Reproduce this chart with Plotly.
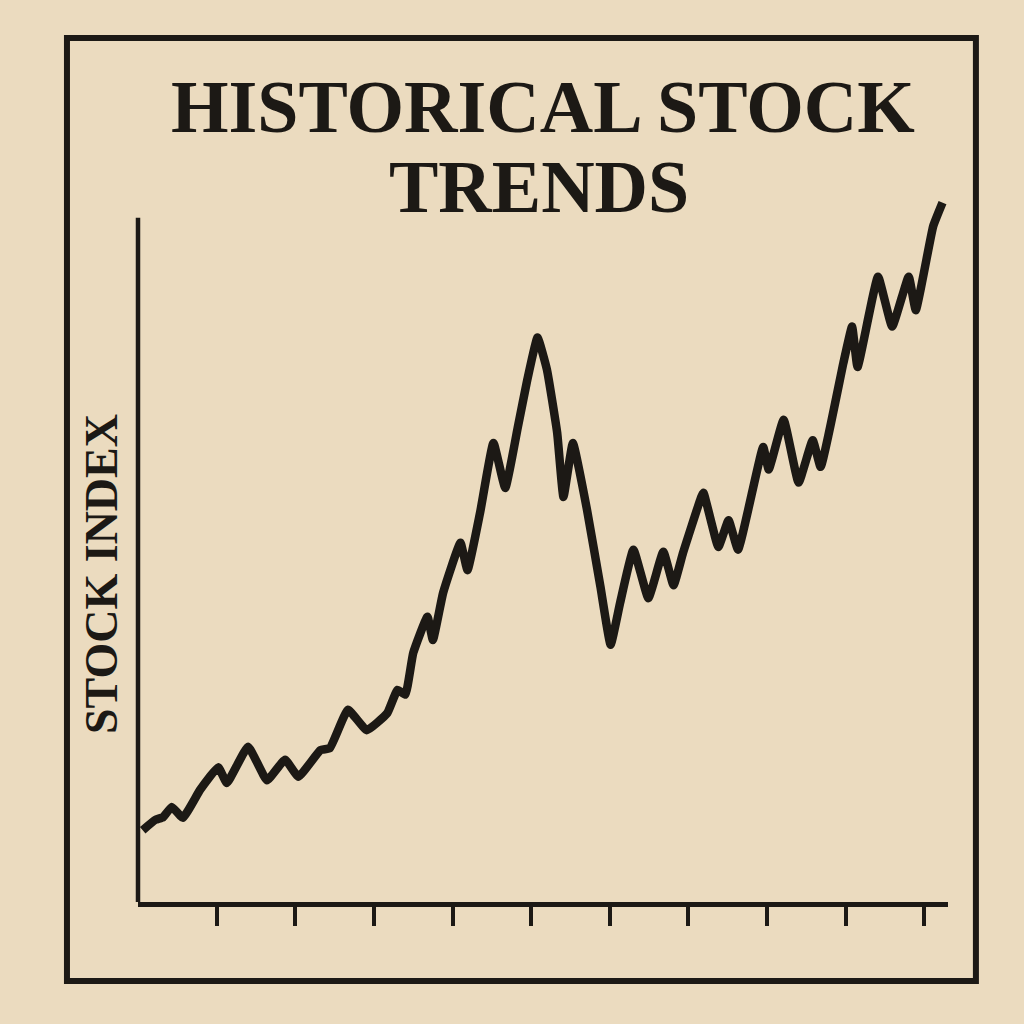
import plotly.graph_objects as go

# Data (x: period units, ticks at 1..10; y: index units 0-100)
period = [0.06, 0.22, 0.32, 0.43, 0.57, 0.79, 1.02, 1.13, 1.40, 1.64,
          1.87, 2.04, 2.32, 2.44, 2.67, 2.91, 3.17, 3.30, 3.40, 3.50,
          3.68, 3.75, 3.88, 4.10, 4.19, 4.35, 4.52, 4.67, 4.83, 4.95,
          5.08, 5.20, 5.33, 5.41, 5.53, 5.71, 5.88, 6.01, 6.13, 6.30,
          6.49, 6.68, 6.81, 6.93, 7.15, 7.19, 7.38, 7.51, 7.63, 7.95,
          8.02, 8.21, 8.40, 8.58, 8.68, 8.97, 9.08, 9.15, 9.41, 9.59,
          9.80, 9.89, 10.11, 10.23]
index_value = [10.5, 12.0, 12.4, 13.9, 12.3, 16.4, 19.7, 17.4, 22.7, 17.8,
               20.8, 18.3, 22.2, 22.5, 28.1, 25.1, 27.6, 31.0, 30.3, 36.4,
               41.7, 38.3, 45.2, 52.5, 48.5, 56.9, 67.1, 60.5, 69.4, 76.3,
               82.5, 77.8, 68.6, 59.2, 67.1, 57.3, 46.1, 37.6, 43.7, 51.5,
               44.4, 51.2, 46.3, 51.0, 58.8, 59.8, 51.9, 55.8, 51.5, 66.5,
               63.2, 70.5, 61.3, 67.5, 63.6, 78.8, 84.1, 78.2, 91.4, 84.1,
               91.4, 86.5, 98.7, 102.2]
tick_positions = [1, 2, 3, 4, 5, 6, 7, 8, 9, 10]
title_lines = ["HISTORICAL STOCK", "TRENDS"]
y_title = "STOCK INDEX"

BG = "#ebdbbf"
INK = "#1c1915"
FONT = "Liberation Serif"

fig = go.Figure()
fig.add_trace(go.Scatter(
    x=period, y=index_value, mode="lines",
    line=dict(color=INK, width=8.5, shape="spline", smoothing=0.35),
    hoverinfo="skip", showlegend=False,
))

fig.update_layout(
    width=1024, height=1024, autosize=False,
    paper_bgcolor=BG, plot_bgcolor=BG,
    margin=dict(l=138, r=76, t=200, b=122),
    xaxis=dict(range=[0, 10.3], showgrid=False, zeroline=False,
               showline=True, linecolor=INK, linewidth=5,
               ticks="outside", tickvals=tick_positions, ticklen=19,
               tickwidth=3.5, tickcolor=INK, showticklabels=False),
    yaxis=dict(range=[0, 102.6], showgrid=False, zeroline=False,
               showline=False, showticklabels=False, ticks=""),
    shapes=[
        # y axis line
        dict(type="line", xref="paper", yref="y", x0=0, x1=0, y0=-0.35, y1=100,
             line=dict(color=INK, width=4.5)),
        # outer frame
        dict(type="rect", xref="paper", yref="paper",
             x0=(67 - 138) / 809.6, x1=(975.5 - 138) / 809.6,
             y0=(902 - 981) / 702, y1=(902 - 38) / 702,
             line=dict(color=INK, width=6), fillcolor="rgba(0,0,0,0)",
             layer="below"),
    ],
    annotations=[
        dict(text="<b>" + title_lines[0] + "</b>", xref="paper", yref="paper",
             x=(542.5 - 138) / 809.6, y=(902 - 107) / 702,
             xanchor="center", yanchor="middle", showarrow=False,
             font=dict(family=FONT, size=74, color=INK)),
        dict(text="<b>" + title_lines[1] + "</b>", xref="paper", yref="paper",
             x=(539 - 138) / 809.6, y=(902 - 187) / 702,
             xanchor="center", yanchor="middle", showarrow=False,
             font=dict(family=FONT, size=74, color=INK)),
        dict(text="<b>" + y_title + "</b>", xref="paper", yref="paper",
             x=(101 - 138) / 809.6, y=(902 - 574) / 702,
             xanchor="center", yanchor="middle", showarrow=False,
             textangle=-90,
             font=dict(family=FONT, size=46, color=INK)),
    ],
)

fig.write_html("out.html", config={"displayModeBar": False},
               post_script="document.body.style.margin='0';")
